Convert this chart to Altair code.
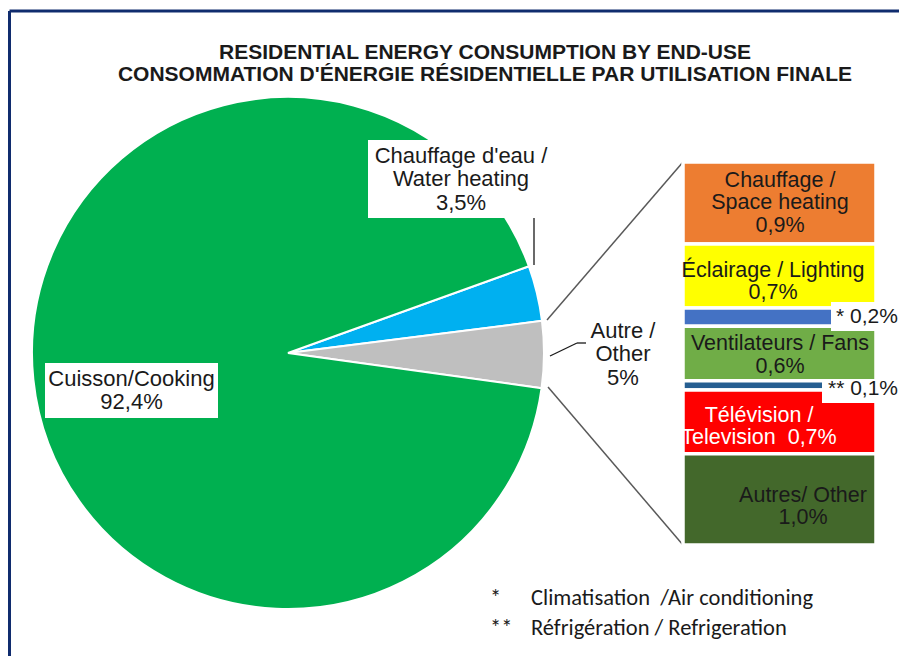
import math
import altair as alt
import pandas as pd

# ---------------- data ----------------
TITLE_LINES = ["RESIDENTIAL ENERGY CONSUMPTION BY END-USE",
               "CONSOMMATION D'ÉNERGIE RÉSIDENTIELLE PAR UTILISATION FINALE"]

PIE_CATS = ["Chauffage d'eau / Water heating", "Autre / Other", "Cuisson/Cooking"]
PIE_VALUES = [3.5, 4.2, 92.4]
PIE_LABELS = ["Chauffage d'eau /\nWater heating\n3,5%", "Autre /\nOther\n5%", "Cuisson/Cooking\n92,4%"]

BAR_CATS = ["Space heating", "Lighting", "Air conditioning", "Fans",
            "Refrigeration", "Television", "Other uses"]
BAR_VALUES = [0.9, 0.7, 0.2, 0.6, 0.1, 0.7, 1.0]
BAR_LABELS = ["Chauffage /\nSpace heating\n0,9%", "Éclairage / Lighting\n0,7%", "* 0,2%",
              "Ventilateurs / Fans\n0,6%", "** 0,1%", "Télévision /\nTelevision\u00a0\u00a00,7%",
              "Autres/ Other\n1,0%"]

NOTE_MARKS = ["*", "**"]
NOTE_TEXTS = ["Climatisation\u00a0 /Air conditioning", "Réfrigération / Refrigeration"]

# ---------------- styles ----------------
PIE_COLORS = ["#00B0F0", "#BFBFBF", "#00B050"]
BAR_COLORS = ["#ED7D31", "#FFFF00", "#4472C4", "#70AD47", "#255E91", "#FF0000", "#43682B"]
FONT = "Liberation Sans, Arial, sans-serif"
NOTE_FONT = "Carlito, Lato, sans-serif"
TXT = "#1a1a1a"
FS = 21.5
LH = 23.5

PIE_TOTAL = sum(PIE_VALUES)
BAR_TOTAL = sum(BAR_VALUES)
A0 = math.radians(70.2)


def center_dy(text, lh):
    return -text.count("\n") * lh / 2


color_scale = alt.Scale(domain=PIE_CATS + BAR_CATS, range=PIE_COLORS + BAR_COLORS)
yscale = alt.Scale(domain=[0, BAR_TOTAL], range=[154, 537])

pie_df = pd.DataFrame({"cat": PIE_CATS, "value": PIE_VALUES, "label": PIE_LABELS,
                       "order": list(range(len(PIE_CATS)))})
bar_df = pd.DataFrame({"cat": BAR_CATS, "value": BAR_VALUES, "label": BAR_LABELS,
                       "order": list(range(len(BAR_CATS)))})
title_txt = "\n".join(TITLE_LINES)
title_df = pd.DataFrame({"t": [title_txt]})
note_df = pd.DataFrame({"m": ["\n".join(NOTE_MARKS)], "t": ["\n".join(NOTE_TEXTS)]})

layers = []

# frame
frame_base = alt.Chart(title_df)
layers.append(frame_base.mark_rule(color="#102C6E", strokeWidth=3).encode(
    x=alt.value(1.5), x2=alt.value(891), y=alt.value(3), y2=alt.value(3)))
layers.append(frame_base.mark_rule(color="#102C6E", strokeWidth=3).encode(
    x=alt.value(1.5), x2=alt.value(1.5), y=alt.value(3), y2=alt.value(648)))

# title
layers.append(alt.Chart(title_df).mark_text(
    font=FONT, fontSize=21, fontWeight="bold", color=TXT, lineBreak="\n", lineHeight=22,
    align="center", baseline="middle", dy=center_dy(title_txt, 22)).encode(
    x=alt.value(477), y=alt.value(56), text="t:N"))

# pie
layers.append(alt.Chart(pie_df).mark_arc(outerRadius=256, stroke="white", strokeWidth=2).encode(
    theta=alt.Theta("value:Q", stack=True,
                    scale=alt.Scale(domain=[0, PIE_TOTAL], range=[A0, A0 + 2 * math.pi])),
    order=alt.Order("order:Q"),
    color=alt.Color("cat:N", scale=color_scale, legend=None),
    x=alt.value(280), y=alt.value(345)))

# connector lines pie -> bar
conn = alt.Chart(title_df).mark_rule(color="#595959", strokeWidth=1.5)
layers.append(conn.encode(x=alt.value(539), y=alt.value(312), x2=alt.value(675), y2=alt.value(154)))
layers.append(conn.encode(x=alt.value(540), y=alt.value(379), x2=alt.value(675), y2=alt.value(537)))

# leader lines
lead = alt.Chart(title_df).mark_rule(color="#1a1a1a", strokeWidth=1.3)
layers.append(lead.encode(x=alt.value(526), y=alt.value(210), x2=alt.value(526), y2=alt.value(257)))
layers.append(lead.encode(x=alt.value(542), y=alt.value(348), x2=alt.value(569), y2=alt.value(335)))
layers.append(lead.encode(x=alt.value(569), y=alt.value(335), x2=alt.value(578), y2=alt.value(335)))

# pie label boxes and labels
pie_box = {PIE_CATS[0]: (360, 545, 132, 210), PIE_CATS[2]: (37, 210, 355, 410)}
pie_txt = {PIE_CATS[0]: (453, 171), PIE_CATS[1]: (615, 346), PIE_CATS[2]: (123.5, 382.5)}
for cat, lab in zip(PIE_CATS, PIE_LABELS):
    sub = alt.Chart(pie_df).transform_filter(alt.datum.cat == cat)
    if cat in pie_box:
        x1, x2, y1, y2 = pie_box[cat]
        layers.append(sub.mark_rect(color="white").encode(
            x=alt.value(x1), x2=alt.value(x2), y=alt.value(y1), y2=alt.value(y2)))
    tx, ty = pie_txt[cat]
    layers.append(sub.mark_text(font=FONT, fontSize=22, color=TXT, lineBreak="\n",
                                lineHeight=LH, align="center", baseline="middle",
                                dy=center_dy(lab, LH)).encode(
        x=alt.value(tx), y=alt.value(ty), text="label:N"))

# bar of pie
bar_base = alt.Chart(bar_df).transform_window(
    end="sum(value)", sort=[alt.SortField("order")], frame=[None, 0]
).transform_calculate(start="datum.end - datum.value", mid="datum.end - datum.value / 2")

layers.append(bar_base.mark_bar(stroke="white", strokeWidth=3.5).encode(
    x=alt.value(675), x2=alt.value(868),
    y=alt.Y("start:Q", scale=yscale, axis=None), y2="end:Q",
    color=alt.Color("cat:N", scale=color_scale, legend=None)))

# white boxes behind the small-segment labels
bar_box = {"Air conditioning": (823, -15, 14), "Refrigeration": (814, -5.5, 17.5)}
for cat, (bx, o1, o2) in bar_box.items():
    layers.append(bar_base.transform_filter(alt.datum.cat == cat).mark_rect(
        color="white", yOffset=o1, y2Offset=o2).encode(
        x=alt.value(bx), x2=alt.value(891),
        y=alt.Y("mid:Q", scale=yscale, axis=None), y2="mid:Q"))

bar_txt = {
    "Space heating": (772, 0, "center", TXT, FS),
    "Lighting": (765, 6, "center", TXT, FS),
    "Air conditioning": (828, 0, "left", TXT, 21),
    "Fans": (772, 2, "center", TXT, FS),
    "Refrigeration": (820, 3.5, "left", TXT, 21),
    "Television": (751, 5, "center", "white", FS),
    "Other uses": (795, 7.5, "center", TXT, FS),
}
for cat, lab in zip(BAR_CATS, BAR_LABELS):
    tx, dy, al, col, fs = bar_txt[cat]
    layers.append(bar_base.transform_filter(alt.datum.cat == cat).mark_text(
        font=FONT, fontSize=fs, color=col, lineBreak="\n", lineHeight=LH - 1,
        align=al, baseline="middle", dy=dy + center_dy(lab, LH - 1)).encode(
        x=alt.value(tx), y=alt.Y("mid:Q", scale=yscale, axis=None), text="label:N"))

# footnotes
note_dy = center_dy("\n".join(NOTE_TEXTS), 30)
layers.append(alt.Chart(note_df).mark_text(font=NOTE_FONT, fontSize=22.5, color=TXT, lineBreak="\n",
                                           lineHeight=30, align="left", baseline="middle",
                                           dy=note_dy).encode(
    x=alt.value(482), y=alt.value(605), text="m:N"))
layers.append(alt.Chart(note_df).mark_text(font=NOTE_FONT, fontSize=22.5, color=TXT, lineBreak="\n",
                                           lineHeight=30, align="left", baseline="middle",
                                           dy=note_dy).encode(
    x=alt.value(523), y=alt.value(605), text="t:N"))

chart = alt.layer(*layers).properties(
    width=891, height=648, autosize="none", padding=0
).configure_view(stroke=None)

chart.save("out.html", embed_options={"renderer": "svg", "actions": False})
